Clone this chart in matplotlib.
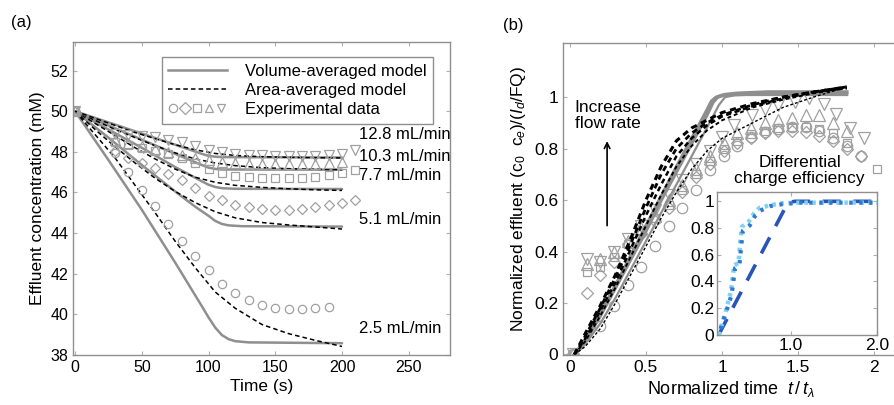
import matplotlib
matplotlib.use("Agg")
import matplotlib.pyplot as plt
from matplotlib.lines import Line2D
from matplotlib.legend_handler import HandlerTuple

plt.rcParams['font.family'] = ['Liberation Sans', 'DejaVu Sans']
plt.rcParams['mathtext.fontset'] = 'custom'
plt.rcParams['mathtext.rm'] = 'Liberation Sans'
plt.rcParams['mathtext.it'] = 'Liberation Sans:italic'

GRAY = '#8f8f8f'
MARK = '#a0a0a0'

# ---------------- panel (a): effluent concentration vs time ----------------
flow_labels = ['2.5 mL/min', '5.1 mL/min', '7.7 mL/min', '10.3 mL/min', '12.8 mL/min']
label_y = [39.29, 44.65, 46.82, 47.75, 48.83]

# volume-averaged model (solid gray)
vol_t = {
    '2.5': [0, 25, 50, 75, 95, 100, 105, 110, 115, 120, 130, 200],
    '5.1': [0, 25, 50, 75, 90, 100, 105, 110, 115, 125, 200],
    '7.7': [0, 25, 50, 75, 95, 100, 105, 110, 120, 200],
    '10.3': [0, 25, 50, 75, 95, 100, 105, 110, 200],
    '12.8': [0, 25, 50, 75, 95, 100, 105, 110, 200],
}
vol_c = {
    '2.5': [50, 47.6, 45.15, 42.55, 40.4, 39.85, 39.35, 38.98, 38.78, 38.68, 38.62, 38.58],
    '5.1': [50, 48.7, 47.35, 46.05, 45.3, 44.85, 44.6, 44.45, 44.38, 44.34, 44.32],
    '7.7': [50, 49.1, 48.2, 47.25, 46.55, 46.38, 46.27, 46.21, 46.18, 46.17],
    '10.3': [50, 49.3, 48.6, 47.9, 47.35, 47.22, 47.16, 47.13, 47.12],
    '12.8': [50, 49.45, 48.9, 48.35, 47.9, 47.8, 47.76, 47.74, 47.72],
}

# area-averaged model (dashed black)
area_t = [0, 15, 30, 45, 60, 75, 90, 105, 120, 140, 160, 180, 200]
area_c = {
    '2.5': [50, 48.85, 47.7, 46.35, 45.0, 43.6, 42.3, 41.1, 40.3, 39.5, 39.05, 38.72, 38.42],
    '5.1': [50, 49.1, 48.25, 47.45, 46.7, 46.05, 45.5, 45.05, 44.75, 44.52, 44.4, 44.3, 44.2],
    '7.7': [50, 49.4, 48.8, 48.2, 47.65, 47.15, 46.75, 46.5, 46.35, 46.25, 46.18, 46.13, 46.1],
    '10.3': [50, 49.55, 49.1, 48.7, 48.3, 47.95, 47.65, 47.45, 47.32, 47.22, 47.17, 47.14, 47.12],
    '12.8': [50, 49.65, 49.3, 48.95, 48.65, 48.35, 48.1, 47.92, 47.82, 47.76, 47.73, 47.71, 47.7],
}

# experimental data (open gray markers)
circ_t = [0, 30, 40, 50, 60, 70, 80, 90, 100, 110, 120, 130, 140, 150, 160, 170, 180, 190]
circ_c = [50, 47.93, 47.03, 46.13, 45.31, 44.46, 43.62, 42.85, 42.16, 41.5, 41.05, 40.72,
          40.47, 40.31, 40.26, 40.26, 40.31, 40.36]
diam_t = [0, 30, 40, 50, 60, 70, 80, 90, 100, 110, 120, 130, 140, 150, 160, 170, 180, 190, 200, 210]
diam_c = [50, 48.05, 47.7, 47.45, 47.2, 46.9, 46.6, 46.22, 45.85, 45.62, 45.4, 45.28, 45.18,
          45.15, 45.15, 45.18, 45.26, 45.39, 45.5, 45.64]
sq_t = [0, 30, 40, 50, 60, 70, 80, 90, 100, 110, 120, 130, 140, 150, 160, 170, 180, 190, 200, 210]
sq_c = [50, 48.5, 48.35, 48.2, 48.05, 47.9, 47.7, 47.47, 47.15, 46.95, 46.82, 46.75, 46.7,
        46.7, 46.7, 46.73, 46.77, 46.87, 46.98, 47.11]
tup_t = [0, 30, 40, 50, 60, 70, 80, 90, 100, 110, 120, 130, 140, 150, 160, 170, 180, 190, 200]
tup_c = [50, 48.6, 48.45, 48.3, 48.15, 48.0, 47.85, 47.7, 47.6, 47.5, 47.45, 47.42, 47.4,
         47.4, 47.4, 47.4, 47.42, 47.45, 47.5]
tdn_t = [0, 30, 40, 50, 60, 70, 80, 90, 100, 110, 120, 130, 140, 150, 160, 170, 180, 190, 200, 210]
tdn_c = [50, 48.9, 48.85, 48.8, 48.72, 48.6, 48.5, 48.3, 48.1, 47.97, 47.9, 47.85, 47.82,
         47.8, 47.8, 47.8, 47.8, 47.82, 47.9, 48.08]

# ---------------- panel (b): normalized effluent ----------------
vol_b_x = [
    [0.03, 0.1, 0.2, 0.3, 0.4, 0.5, 0.6, 0.7, 0.8, 0.9, 0.94, 0.97, 1.02, 1.1, 1.3, 1.82],
    [0.04, 0.1, 0.2, 0.3, 0.4, 0.5, 0.6, 0.7, 0.8, 0.9, 0.98, 1.02, 1.08, 1.2, 1.82],
    [0.03, 0.1, 0.2, 0.3, 0.4, 0.5, 0.6, 0.7, 0.8, 0.9, 0.93, 0.96, 1.0, 1.1, 1.82],
]
vol_b_y = [
    [0, 0.05, 0.15, 0.26, 0.37, 0.48, 0.6, 0.71, 0.82, 0.93, 0.98, 1.0, 1.01, 1.015, 1.02, 1.02],
    [0, 0.04, 0.12, 0.22, 0.33, 0.44, 0.55, 0.66, 0.77, 0.88, 0.97, 1.0, 1.007, 1.01, 1.01],
    [0, 0.055, 0.16, 0.27, 0.385, 0.5, 0.615, 0.73, 0.84, 0.95, 0.985, 1.0, 1.008, 1.01, 1.01],
]
area_b_x = [0.03, 0.1, 0.2, 0.3, 0.4, 0.5, 0.6, 0.7, 0.8, 0.9, 1.0, 1.2, 1.4, 1.6, 1.82]
area_b_y = [
    [0, 0.08, 0.19, 0.31, 0.45, 0.6, 0.73, 0.83, 0.88, 0.91, 0.94, 0.975, 1.0, 1.02, 1.04],
    [0, 0.07, 0.18, 0.3, 0.43, 0.57, 0.7, 0.8, 0.86, 0.9, 0.93, 0.97, 1.0, 1.02, 1.04],
    [0, 0.06, 0.17, 0.28, 0.41, 0.54, 0.66, 0.77, 0.84, 0.89, 0.925, 0.965, 0.995, 1.02, 1.035],
    [0, 0.05, 0.15, 0.26, 0.38, 0.5, 0.62, 0.73, 0.81, 0.87, 0.91, 0.96, 0.99, 1.015, 1.035],
    [0, 0.03, 0.1, 0.2, 0.31, 0.42, 0.53, 0.63, 0.72, 0.79, 0.84, 0.9, 0.96, 1.0, 1.04],
]
b_circ_x = [0.02, 0.2, 0.29, 0.38, 0.47, 0.56, 0.65, 0.74, 0.83, 0.92, 1.01, 1.1, 1.19, 1.28,
            1.37, 1.46, 1.55, 1.64, 1.73, 1.82, 1.91]
b_circ_y = [0, 0.11, 0.19, 0.27, 0.34, 0.42, 0.5, 0.57, 0.64, 0.715, 0.77, 0.81, 0.845, 0.865,
            0.877, 0.884, 0.884, 0.87, 0.84, 0.81, 0.77]
b_diam_x = [0.02, 0.11, 0.2, 0.29, 0.38, 0.47, 0.56, 0.65, 0.74, 0.83, 0.92, 1.01, 1.1, 1.19,
            1.28, 1.37, 1.46, 1.55, 1.64, 1.73, 1.82, 1.91]
b_diam_y = [0, 0.24, 0.31, 0.36, 0.43, 0.47, 0.52, 0.57, 0.63, 0.69, 0.74, 0.79, 0.82, 0.84,
            0.86, 0.87, 0.87, 0.865, 0.85, 0.83, 0.8, 0.77]
b_sq_x = [0.02, 0.11, 0.2, 0.29, 0.38, 0.47, 0.56, 0.65, 0.74, 0.83, 0.92, 1.01, 1.1, 1.19,
          1.28, 1.37, 1.46, 1.55, 1.64, 1.73, 1.82, 2.02]
b_sq_y = [0, 0.32, 0.34, 0.38, 0.43, 0.48, 0.53, 0.58, 0.64, 0.7, 0.75, 0.8, 0.83, 0.855,
          0.87, 0.88, 0.885, 0.885, 0.875, 0.86, 0.82, 0.72]
b_tup_x = [0.02, 0.11, 0.2, 0.29, 0.38, 0.47, 0.56, 0.65, 0.74, 0.83, 0.92, 1.01, 1.1, 1.19,
           1.28, 1.37, 1.46, 1.55, 1.64, 1.73, 1.82]
b_tup_y = [0, 0.35, 0.37, 0.4, 0.44, 0.49, 0.54, 0.6, 0.66, 0.72, 0.77, 0.82, 0.86, 0.88,
           0.9, 0.91, 0.92, 0.93, 0.93, 0.9, 0.87]
b_tdn_x = [0.02, 0.11, 0.2, 0.29, 0.38, 0.47, 0.56, 0.65, 0.74, 0.83, 0.92, 1.0, 1.08, 1.2,
           1.28, 1.37, 1.48, 1.57, 1.67, 1.75, 1.84, 1.93]
b_tdn_y = [0, 0.37, 0.36, 0.4, 0.45, 0.5, 0.56, 0.62, 0.68, 0.74, 0.79, 0.845, 0.89, 0.93,
           0.955, 0.97, 0.98, 0.995, 0.975, 0.935, 0.88, 0.84]

# inset: differential charge efficiency
ins_dash_x = [0.17, 0.97, 1.05, 2.0]
ins_dash_y = [0, 0.99, 1.0, 1.0]
ins_dark_x = [0.17, 0.26, 0.32, 0.36, 0.41, 0.43, 0.45, 0.53, 0.59, 0.65, 0.77, 0.92, 1.12, 2.0]
ins_dark_y = [0, 0.18, 0.3, 0.5, 0.52, 0.66, 0.78, 0.82, 0.89, 0.93, 0.965, 0.98, 0.99, 0.99]
ins_light_x = [0.17, 0.25, 0.31, 0.35, 0.4, 0.42, 0.44, 0.52, 0.58, 0.64, 0.76, 0.9, 1.1, 2.0]
ins_light_y = [0, 0.17, 0.32, 0.52, 0.54, 0.7, 0.81, 0.85, 0.91, 0.95, 0.97, 0.985, 0.99, 0.99]


def style_axes(ax, size):
    for s in ax.spines.values():
        s.set_color(GRAY)
        s.set_linewidth(1.0)
    ax.tick_params(direction='in', top=True, right=True, length=3, width=0.8,
                   color='#b0b0b0', labelsize=size, labelcolor='black')


fig = plt.figure(figsize=(8.95, 4.05), dpi=100)

# ----- (a) -----
ax = fig.add_axes([0.0816, 0.1235, 0.4214, 0.7725])
keys = ['2.5', '5.1', '7.7', '10.3', '12.8']
for k in keys:
    ax.plot(vol_t[k], vol_c[k], color=GRAY, lw=1.8, solid_capstyle='round')
    ax.plot(area_t, area_c[k], color='black', lw=1.1, dashes=(3, 2))
mk = dict(ls='none', mfc='none', mec=MARK, mew=0.9)
ax.plot(circ_t, circ_c, marker='o', ms=6, **mk)
ax.plot(diam_t, diam_c, marker='D', ms=5.5, **mk)
ax.plot(sq_t, sq_c, marker='s', ms=5.5, **mk)
ax.plot(tup_t, tup_c, marker='^', ms=7, **mk)
ax.plot(tdn_t, tdn_c, marker='v', ms=7, **mk)
for lab, y in zip(flow_labels, label_y):
    ax.text(213, y, lab, fontsize=12, va='center', ha='left')
ax.set_xlim(-1.5, 281)
ax.set_ylim(38, 53.4)
ax.set_xticks([0, 50, 100, 150, 200, 250])
ax.set_yticks([38, 40, 42, 44, 46, 48, 50, 52])
ax.set_xlabel('Time (s)', fontsize=12.5, labelpad=3)
ax.set_ylabel('Effluent concentration (mM)', fontsize=12.5, labelpad=4)
style_axes(ax, 11.5)

h_vol = Line2D([], [], color=GRAY, lw=1.8)
h_area = Line2D([], [], color='black', lw=1.1, dashes=(3, 2))
h_marks = tuple(Line2D([], [], marker=m, ms=6, **mk) for m in ['o', 'D', 's', '^', 'v'])
leg = ax.legend([h_vol, h_area, h_marks],
                ['Volume-averaged model', 'Area-averaged model', 'Experimental data'],
                handler_map={tuple: HandlerTuple(ndivide=None, pad=0.1)},
                loc='upper right', bbox_to_anchor=(0.955, 0.952), borderaxespad=0,
                fontsize=12, fancybox=False, framealpha=1, edgecolor=GRAY,
                handlelength=3.5, handletextpad=1.1, borderpad=0.4, labelspacing=0.25)
leg.get_frame().set_linewidth(1.0)

fig.text(0.012, 0.933, '(a)', fontsize=12)

# ----- (b) -----
bx = fig.add_axes([0.629, 0.1235, 0.375, 0.77])
mkb = dict(ls='none', mfc='none', mec=MARK, mew=0.9)
bx.plot(b_circ_x, b_circ_y, marker='o', ms=7.5, **mkb)
bx.plot(b_diam_x, b_diam_y, marker='D', ms=6.5, **mkb)
bx.plot(b_sq_x, b_sq_y, marker='s', ms=6, **mkb)
bx.plot(b_tup_x, b_tup_y, marker='^', ms=9, **mkb)
bx.plot(b_tdn_x, b_tdn_y, marker='v', ms=9, **mkb)
for xs, ys, lw in zip(vol_b_x, vol_b_y, [2.6, 1.6, 2.2]):
    bx.plot(xs, ys, color=GRAY, lw=lw)
for ys, lw in zip(area_b_y, [2.2, 2.0, 1.8, 1.4, 1.0]):
    bx.plot(area_b_x, ys, color='black', lw=lw, dashes=(2, 1.5))
bx.annotate('', xy=(0.245, 0.84), xytext=(0.245, 0.49),
            arrowprops=dict(arrowstyle='->', color='black', lw=1.2))
bx.text(0.25, 0.93, 'Increase\nflow rate', ha='center', va='center', fontsize=12.5,
        linespacing=1.1)
bx.text(1.51, 0.715, 'Differential\ncharge efficiency', ha='center', va='center',
        fontsize=12.5, linespacing=1.15)
bx.set_xlim(-0.045, 2.16)
bx.set_ylim(-0.002, 1.21)
bx.set_xticks([0, 0.5, 1, 1.5, 2])
bx.set_xticklabels(['0', '0.5', '1', '1.5', '2'])
bx.set_yticks([0, 0.2, 0.4, 0.6, 0.8, 1])
bx.set_yticklabels(['0', '0.2', '0.4', '0.6', '0.8', '1'])
bx.set_xlabel(r'Normalized time  $t\,/\,t_{\lambda}$', fontsize=13, labelpad=3)
bx.set_ylabel(r'Normalized effluent (c$_0$  c$_e$)/($I_d$/FQ)', fontsize=12.5, labelpad=4)
style_axes(bx, 12.5)

fig.text(0.562, 0.926, '(b)', fontsize=12)

# ----- inset -----
ix = fig.add_axes([0.801, 0.173, 0.179, 0.353])
ix.plot(ins_dash_x, ins_dash_y, color='#2a55b8', lw=2.6, dashes=(5, 3.5))
ix.plot(ins_light_x, ins_light_y, color='#7ed3f2', lw=3.2, ls=(0, (0.8, 1.0)))
ix.plot(ins_dark_x, ins_dark_y, color='#2f78d0', lw=3.0, ls=(0.9, (0.8, 1.6)))
ix.set_xlim(0.15, 2.0)
ix.set_ylim(0, 1.07)
ix.set_xticks([1.0, 2.0])
ix.set_xticklabels(['1.0', '2.0'])
ix.set_yticks([0, 0.2, 0.4, 0.6, 0.8, 1])
ix.set_yticklabels(['0', '0.2', '0.4', '0.6', '0.8', '1'])
style_axes(ix, 12.5)
ix.tick_params(pad=2)

fig.savefig('out.png', dpi=100)
